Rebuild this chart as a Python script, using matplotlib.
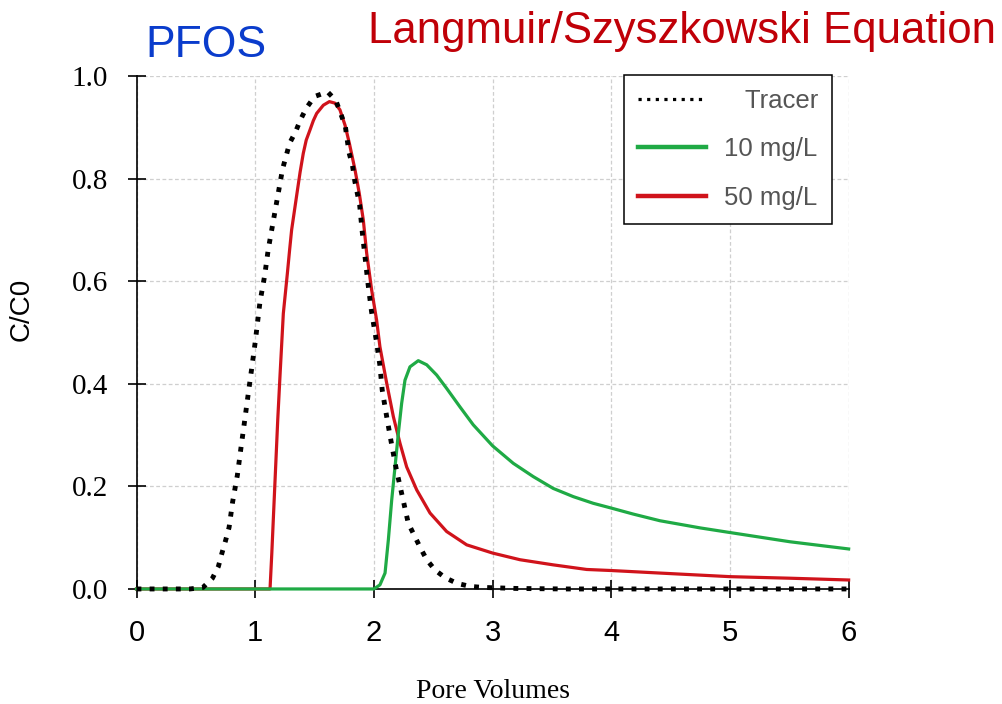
import matplotlib
matplotlib.use("Agg")
import matplotlib.pyplot as plt

# Breakthrough curves: relative concentration vs. pore volumes
pv_tracer = [0.0, 0.45, 0.56, 0.64, 0.69, 0.72, 0.75, 0.78, 0.81, 0.83, 0.85,
             0.88, 0.91, 0.94, 0.97, 1.00, 1.04, 1.08, 1.11, 1.15, 1.19, 1.23,
             1.29, 1.34, 1.38, 1.43, 1.50, 1.61, 1.68, 1.72, 1.76, 1.79, 1.82,
             1.84, 1.88, 1.90, 1.925, 1.95, 1.98, 2.02, 2.05, 2.07, 2.11, 2.15,
             2.19, 2.24, 2.29, 2.39, 2.445, 2.515, 2.60, 2.70, 2.81, 2.92, 3.2,
             3.6, 6.0]
c_tracer = [0.0, 0.0, 0.003, 0.021, 0.044, 0.070, 0.094, 0.120, 0.170, 0.196,
            0.222, 0.275, 0.326, 0.378, 0.429, 0.481, 0.559, 0.611, 0.662,
            0.714, 0.766, 0.818, 0.869, 0.891, 0.914, 0.937, 0.960, 0.969,
            0.952, 0.927, 0.901, 0.851, 0.825, 0.794, 0.749, 0.700, 0.648,
            0.596, 0.541, 0.485, 0.437, 0.388, 0.333, 0.281, 0.232, 0.180,
            0.128, 0.081, 0.057, 0.037, 0.022, 0.011, 0.005, 0.003, 0.001,
            0.0, 0.0]

pv_10 = [0.0, 2.0, 2.051, 2.094, 2.122, 2.150, 2.178, 2.206, 2.234, 2.262,
         2.304, 2.374, 2.445, 2.529, 2.613, 2.725, 2.837, 3.0, 3.174, 3.343,
         3.511, 3.68, 3.848, 3.995, 4.185, 4.41, 4.75, 5.0, 5.506, 6.0]
c_10 = [0.0, 0.0, 0.008, 0.031, 0.096, 0.173, 0.238, 0.303, 0.362, 0.407,
        0.433, 0.445, 0.437, 0.417, 0.391, 0.355, 0.320, 0.279, 0.245, 0.219,
        0.196, 0.180, 0.167, 0.158, 0.146, 0.133, 0.119, 0.110, 0.092, 0.078]

pv_50 = [0.0, 1.125, 1.14, 1.165, 1.19, 1.21, 1.237, 1.271, 1.29, 1.307, 1.35,
         1.378, 1.405, 1.43, 1.462, 1.49, 1.518, 1.574, 1.625, 1.672, 1.714,
         1.757, 1.793, 1.841, 1.877, 1.911, 1.939, 1.981, 2.023, 2.051, 2.108,
         2.164, 2.22, 2.276, 2.361, 2.473, 2.613, 2.782, 3.0, 3.231, 3.511,
         3.793, 3.995, 4.41, 5.0, 5.5, 6.0]
c_50 = [0.0, 0.0, 0.07, 0.2, 0.33, 0.42, 0.537, 0.615, 0.661, 0.700, 0.768,
        0.812, 0.849, 0.875, 0.895, 0.913, 0.927, 0.943, 0.950, 0.947, 0.934,
        0.904, 0.869, 0.817, 0.771, 0.719, 0.655, 0.583, 0.524, 0.472, 0.401,
        0.336, 0.284, 0.238, 0.193, 0.148, 0.112, 0.086, 0.070, 0.057, 0.047,
        0.038, 0.036, 0.031, 0.024, 0.021, 0.0175]

x_ticks = [0, 1, 2, 3, 4, 5, 6]
y_ticks = [0.0, 0.2, 0.4, 0.6, 0.8, 1.0]
y_tick_labels = ["0.0", "0.2", "0.4", "0.6", "0.8", "1.0"]
series_labels = ["Tracer", "10 mg/L", "50 mg/L"]

SANS = ["Liberation Sans", "DejaVu Sans"]
SERIF = ["Liberation Serif", "DejaVu Serif"]

fig = plt.figure(figsize=(10.03, 7.04), dpi=100)
ax = fig.add_axes([0.1361, 0.1634, 0.7100, 0.7287])

red = "#d0131b"
green = "#1faa45"

l50, = ax.plot(pv_50, c_50, color=red, lw=2.3, clip_on=False, zorder=3,
               solid_joinstyle="round")
l10, = ax.plot(pv_10, c_10, color=green, lw=2.3, clip_on=False, zorder=4,
               solid_joinstyle="round")
ltr, = ax.plot(pv_tracer, c_tracer, color="black", lw=3.5,
               linestyle=(0, (1, 1.7)), dash_capstyle="butt",
               clip_on=False, zorder=5)

ax.set_xlim(0, 6)
ax.set_ylim(0, 1)
ax.set_xticks(x_ticks)
ax.set_xticklabels([str(v) for v in x_ticks], family=SANS, fontsize=21)
ax.set_yticks(y_ticks)
ax.set_yticklabels(y_tick_labels, family=SERIF, fontsize=21)

ax.grid(True, color="#cfcfcf", linestyle=(0, (3, 2)), linewidth=0.9)
ax.set_axisbelow(True)
for side in ("top", "right"):
    ax.spines[side].set_visible(False)
for side in ("left", "bottom"):
    ax.spines[side].set_linewidth(1.2)
    ax.spines[side].set_color("black")

ax.tick_params(axis="both", direction="inout", length=13, width=1.2,
               color="black")
ax.tick_params(axis="x", pad=15)
ax.tick_params(axis="y", pad=14)

ax.set_xlabel("Pore Volumes", family=SERIF, fontsize=20, labelpad=23)
ax.set_ylabel("C/C0", family=SANS, fontsize=20)
ax.yaxis.set_label_coords(-0.1435, 0.545)

leg = ax.legend([ltr, l10, l50], ["   " + series_labels[0], series_labels[1],
                                  series_labels[2]],
                loc="upper right", bbox_to_anchor=(0.977, 1.002),
                borderaxespad=0,
                prop={"family": SANS, "size": 18.5}, frameon=True,
                fancybox=False, edgecolor="black", framealpha=1,
                handlelength=2.65, handletextpad=0.7, labelspacing=0.95,
                borderpad=0.55)
leg.get_frame().set_linewidth(1.1)
for t in leg.get_texts():
    t.set_color("#555555")
for h in leg.get_lines():
    if h.get_linestyle() == "-":
        h.set_linewidth(3.2)
    else:
        h.set_linewidth(2.3)

fig.text(145 / 1003, 1 - 57 / 704, "PFOS", color="#0a3ccc", family=SANS,
         fontsize=32, ha="left", va="baseline")
fig.text(368 / 1003, 1 - 43 / 704, "Langmuir/Szyszkowski Equation",
         color="#c00008", family=SANS, fontsize=31.5, ha="left",
         va="baseline")

fig.savefig("out.png", dpi=100)
